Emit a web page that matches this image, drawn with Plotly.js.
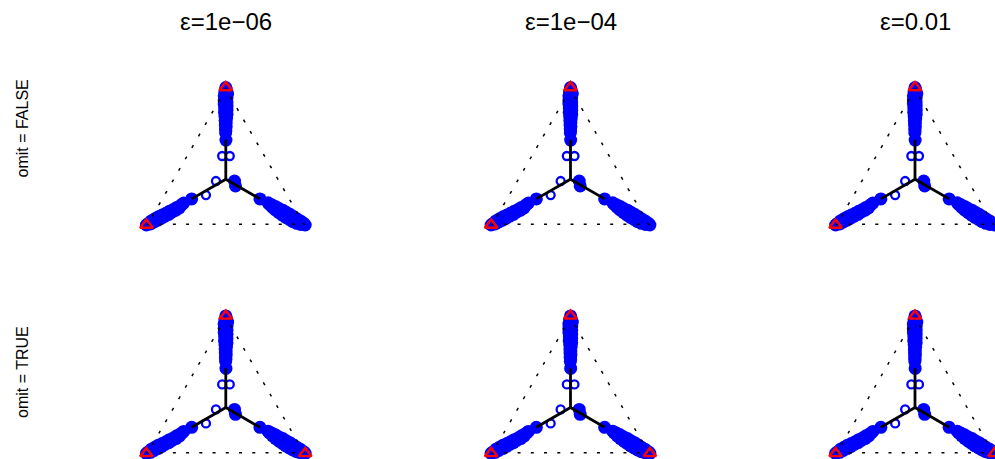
<!DOCTYPE html>
<html>
<head>
<meta charset="utf-8">
<script src="https://cdn.plot.ly/plotly-3.0.1.min.js"></script>
<style>
  html, body { margin: 0; padding: 0; background: #ffffff; }
  #plot { width: 995px; height: 459px; }
</style>
</head>
<body>
<div id="plot"></div>
<script>
// Column and row headings
const epsLabels = ['\u03b5=1e\u221206', '\u03b5=1e\u221204', '\u03b5=0.01'];
const omitLabels = ['omit = FALSE', 'omit = TRUE'];

// Filled observations as compositions (a = top, b = bottom-left, c = bottom-right).
// Order: top arm, bottom-left arm, bottom-right arm, two points near the centre.
const filledA = [
  1.000, 0.985, 0.970, 0.955, 0.940, 0.925, 0.910, 0.895, 0.880, 0.865, 0.850, 0.835,
  0.820, 0.805, 0.790, 0.775, 0.760, 0.745, 0.730, 0.715, 0.700, 0.685, 0.670, 0.618,
  0.000, 0.010, 0.008, 0.030, 0.022, 0.045, 0.035, 0.060, 0.050, 0.072, 0.065, 0.085,
  0.078, 0.100, 0.095, 0.112, 0.108, 0.128, 0.125, 0.142, 0.150, 0.160, 0.190,
  0.000, 0.012, 0.004, 0.030, 0.012, 0.045, 0.025, 0.062, 0.040, 0.078, 0.055, 0.092,
  0.072, 0.108, 0.090, 0.120, 0.108, 0.135, 0.128, 0.148, 0.150, 0.162, 0.190,
  0.320, 0.284
];
const filledB = [
  0.000, 0.004, 0.021, 0.011, 0.040, 0.030, 0.055, 0.045, 0.070, 0.060, 0.082, 0.075,
  0.098, 0.090, 0.110, 0.108, 0.124, 0.125, 0.138, 0.140, 0.152, 0.157, 0.166, 0.190,
  1.000, 0.985, 0.970, 0.955, 0.940, 0.925, 0.910, 0.895, 0.880, 0.865, 0.850, 0.835,
  0.820, 0.805, 0.790, 0.775, 0.760, 0.745, 0.730, 0.715, 0.700, 0.685, 0.620,
  0.000, 0.003, 0.026, 0.015, 0.048, 0.030, 0.065, 0.043, 0.080, 0.057, 0.095, 0.073,
  0.108, 0.087, 0.120, 0.105, 0.132, 0.120, 0.142, 0.137, 0.150, 0.153, 0.190,
  0.285, 0.297
];
const filledC = [
  0.000, 0.011, 0.009, 0.034, 0.020, 0.045, 0.035, 0.060, 0.050, 0.075, 0.068, 0.090,
  0.082, 0.105, 0.100, 0.117, 0.116, 0.130, 0.132, 0.145, 0.148, 0.158, 0.164, 0.192,
  0.000, 0.005, 0.022, 0.015, 0.038, 0.030, 0.055, 0.045, 0.070, 0.063, 0.085, 0.080,
  0.102, 0.095, 0.115, 0.113, 0.132, 0.127, 0.145, 0.143, 0.150, 0.155, 0.190,
  1.000, 0.985, 0.970, 0.955, 0.940, 0.925, 0.910, 0.895, 0.880, 0.865, 0.850, 0.835,
  0.820, 0.805, 0.790, 0.775, 0.760, 0.745, 0.730, 0.715, 0.700, 0.685, 0.620,
  0.395, 0.419
];

// Open observations
const openA = [0.502, 0.502, 0.320, 0.218];
const openB = [0.272, 0.224, 0.402, 0.516];
const openC = [0.226, 0.274, 0.278, 0.266];

// Segments from the barycentre out along each arm
const armA = [0.3333, 0.620, null, 0.3333, 0.190, null, 0.3333, 0.190];
const armB = [0.3333, 0.190, null, 0.3333, 0.620, null, 0.3333, 0.190];
const armC = [0.3333, 0.190, null, 0.3333, 0.190, null, 0.3333, 0.620];

// Simplex boundary (closed)
const edgeA = [0, 0, 1, 0];
const edgeB = [1, 0, 0, 1];
const edgeC = [0, 1, 0, 0];

// Flagged vertices, per row
const flaggedA = [[1, 0], [1, 0, 0]];
const flaggedB = [[0, 1], [0, 1, 0]];
const flaggedC = [[0, 0], [0, 0, 1]];

const W = 995, H = 459;
const side = 158.8;
const tri = side * Math.sqrt(3) / 2;
const colCentres = [225.8, 570.5, 915.0];
const rowTops = [87.5, 315.9];
const rowLabelCentres = [128.5, 372];

const blue = '#0000FF';
const red = '#FF0000';
const fontFam = '"Liberation Sans", Arial, Helvetica, sans-serif';

const hiddenAxis = {
  min: 0, showline: false, showgrid: false, showticklabels: false,
  ticks: '', title: { text: '' }
};

const traces = [];
const layout = {
  width: W, height: H,
  margin: { l: 0, r: 0, t: 0, b: 0 },
  paper_bgcolor: '#ffffff',
  showlegend: false,
  annotations: []
};

let k = 0;
rowTops.forEach((top, r) => {
  colCentres.forEach((cx, c) => {
    k += 1;
    const id = k === 1 ? 'ternary' : 'ternary' + k;
    layout[id] = {
      domain: {
        x: [(cx - side / 2) / W, (cx + side / 2) / W],
        y: [1 - (top + tri) / H, 1 - top / H]
      },
      sum: 1,
      bgcolor: 'rgba(0,0,0,0)',
      aaxis: hiddenAxis, baxis: hiddenAxis, caxis: hiddenAxis
    };
    const common = { type: 'scatterternary', subplot: id, cliponaxis: false, hoverinfo: 'skip' };
    traces.push(Object.assign({}, common, {
      a: filledA, b: filledB, c: filledC, mode: 'markers',
      marker: { symbol: 'circle', size: 13, color: blue, line: { width: 0 } }
    }));
    traces.push(Object.assign({}, common, {
      a: openA, b: openB, c: openC, mode: 'markers',
      marker: { symbol: 'circle-open', size: 8, color: blue, line: { width: 2.3, color: blue } }
    }));
    const dot = 3;
    const gap = (side / 12 - dot).toFixed(3);
    traces.push(Object.assign({}, common, {
      a: edgeA, b: edgeB, c: edgeC, mode: 'lines',
      line: { color: '#000000', width: 3, dash: dot + 'px,' + gap + 'px' }
    }));
    traces.push(Object.assign({}, common, {
      a: armA, b: armB, c: armC, mode: 'lines', connectgaps: false,
      line: { color: '#000000', width: 2.8 }
    }));
    traces.push(Object.assign({}, common, {
      a: flaggedA[r], b: flaggedB[r], c: flaggedC[r], mode: 'markers',
      marker: { symbol: 'triangle-up-open', size: 11, color: red, line: { width: 2.4, color: red } }
    }));
  });
});

epsLabels.forEach((t, c) => {
  layout.annotations.push({
    text: t, showarrow: false, xref: 'paper', yref: 'paper',
    x: colCentres[c] / W, y: 1 - 22 / H, xanchor: 'center', yanchor: 'middle',
    font: { family: fontFam, size: 24, color: '#000000' }
  });
});
omitLabels.forEach((t, r) => {
  layout.annotations.push({
    text: t, showarrow: false, xref: 'paper', yref: 'paper', textangle: -90,
    x: 22 / W, y: 1 - rowLabelCentres[r] / H, xanchor: 'center', yanchor: 'middle',
    font: { family: fontFam, size: 16, color: '#000000' }
  });
});

Plotly.newPlot('plot', traces, layout, { staticPlot: true, displayModeBar: false });
</script>
</body>
</html>
